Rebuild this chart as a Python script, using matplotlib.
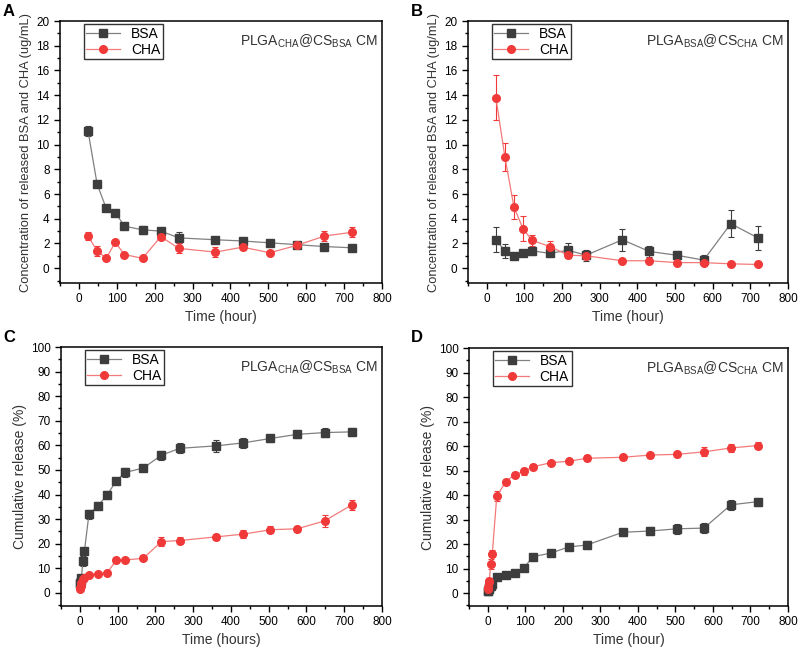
import numpy as np
import matplotlib.pyplot as plt
from matplotlib.ticker import MultipleLocator

plt.rcParams['font.family'] = ['Liberation Sans', 'DejaVu Sans']
plt.rcParams['mathtext.fontset'] = 'custom'
plt.rcParams['mathtext.rm'] = 'Liberation Sans'

# daily concentration (panels A, B)
t_conc = [24, 48, 72, 96, 120, 168, 216, 264, 360, 432, 504, 576, 648, 720]
a_bsa = [11.1, 6.8, 4.85, 4.5, 3.4, 3.1, 3.0, 2.45, 2.3, 2.2, 2.05, 1.9, 1.75, 1.65]
a_bsa_err = [0.4, 0.25, 0.2, 0.2, 0.15, 0.3, 0.2, 0.45, 0.15, 0.2, 0.15, 0.15, 0.15, 0.1]
a_cha = [2.6, 1.4, 0.8, 2.1, 1.1, 0.8, 2.55, 1.6, 1.3, 1.7, 1.25, 1.85, 2.6, 2.9]
a_cha_err = [0.3, 0.4, 0.1, 0.15, 0.1, 0.1, 0.2, 0.4, 0.4, 0.25, 0.15, 0.2, 0.4, 0.4]
b_bsa = [2.3, 1.4, 1.0, 1.25, 1.4, 1.2, 1.45, 1.05, 2.3, 1.35, 1.05, 0.65, 3.6, 2.45]
b_bsa_err = [1.0, 0.55, 0.1, 0.1, 0.3, 0.15, 0.6, 0.45, 0.9, 0.45, 0.3, 0.4, 1.1, 1.0]
b_cha = [13.8, 9.0, 4.95, 3.2, 2.25, 1.75, 1.05, 1.0, 0.6, 0.6, 0.45, 0.45, 0.35, 0.3]
b_cha_err = [1.8, 1.1, 0.95, 1.0, 0.45, 0.45, 0.2, 0.15, 0.1, 0.1, 0.1, 0.1, 0.05, 0.05]

# cumulative release (panels C, D)
t_cum = [0.5, 1, 2, 4, 8, 12, 24, 48, 72, 96, 120, 168, 216, 264, 360, 432, 504, 576, 648, 720]
c_bsa = [3.5, 4, 5, 6, 13, 17, 32, 35.5, 39.8, 45.5, 49, 50.8, 56, 58.8, 59.8, 61, 62.8, 64.5, 65.2, 65.5]
c_bsa_err = [0.5, 0.5, 0.6, 0.8, 2.0, 1.2, 1.8, 1.5, 1.5, 1.0, 1.8, 0.8, 1.8, 2.0, 2.3, 2.0, 1.5, 1.6, 1.8, 1.5]
c_cha = [1.5, 2, 3, 4, 5.5, 6.2, 7.5, 7.8, 8.2, 13.2, 13.4, 14.1, 20.9, 21.3, 22.8, 23.9, 25.7, 26.1, 29.3, 35.8]
c_cha_err = [0.3, 0.3, 0.4, 0.4, 0.5, 0.5, 0.5, 0.5, 0.5, 1.0, 1.0, 0.8, 1.8, 1.5, 1.2, 1.5, 1.5, 1.2, 2.5, 2.0]
d_bsa = [0.8, 1, 1.5, 2.5, 3, 3.8, 6.5, 7.2, 8.1, 10.2, 14.8, 16.3, 18.8, 19.6, 24.8, 25.3, 26.2, 26.5, 36, 37.3]
d_bsa_err = [0.3, 0.3, 0.4, 0.5, 0.5, 0.5, 0.6, 0.6, 0.6, 0.8, 1.0, 1.3, 1.3, 1.5, 1.5, 1.5, 2.0, 2.2, 2.0, 1.6]
d_cha = [1.5, 2.5, 4.5, 5, 12, 16, 39.5, 45.5, 48.3, 49.6, 51.5, 53.2, 53.8, 55, 55.4, 56.3, 56.6, 57.6, 59.2, 60.2]
d_cha_err = [0.5, 0.6, 0.8, 1.0, 2.0, 1.5, 2.0, 1.0, 1.0, 1.5, 1.2, 0.8, 1.0, 1.2, 1.0, 1.0, 1.0, 1.8, 1.5, 1.5]

label_ac = r'PLGA$_{\mathrm{CHA}}$@CS$_{\mathrm{BSA}}$ CM'
label_bd = r'PLGA$_{\mathrm{BSA}}$@CS$_{\mathrm{CHA}}$ CM'

BSA_COL = '#3d3d3d'
CHA_COL = '#f03a3a'

W, H = 800, 648
fig = plt.figure(figsize=(W / 100, H / 100), dpi=100)


def make_axes(l, t, r, b):
    return fig.add_axes([l / W, 1 - b / H, (r - l) / W, (b - t) / H])


def draw(ax, t, bsa, bsa_err, cha, cha_err, ylim, ymaj, ymin, ylabel, xlabel, note, ylsize):
    e1 = ax.errorbar(t, bsa, yerr=bsa_err, color='#808080', lw=0.9, marker='s', ms=5.5,
                     mfc=BSA_COL, mec=BSA_COL, ecolor=BSA_COL, elinewidth=0.8, capsize=2.5,
                     capthick=0.8, label='BSA', zorder=3)
    e2 = ax.errorbar(t, cha, yerr=cha_err, color='#f37a7a', lw=0.9, marker='o', ms=5.5,
                     mfc=CHA_COL, mec=CHA_COL, ecolor=CHA_COL, elinewidth=0.8, capsize=2.5,
                     capthick=0.8, label='CHA', zorder=3)
    ax.set_xlim(-50, 800)
    ax.set_ylim(*ylim)
    ax.xaxis.set_major_locator(MultipleLocator(100))
    ax.xaxis.set_minor_locator(MultipleLocator(50))
    ax.yaxis.set_major_locator(MultipleLocator(ymaj))
    ax.yaxis.set_minor_locator(MultipleLocator(ymin))
    ax.tick_params(which='both', direction='out', labelsize=8.5, width=1)
    ax.tick_params(which='major', length=4)
    ax.tick_params(which='minor', length=2)
    for s in ax.spines.values():
        s.set_linewidth(1.1)
    ax.set_xlabel(xlabel, fontsize=10, color='#333333', labelpad=3)
    ax.set_ylabel(ylabel, fontsize=ylsize, color='#333333', labelpad=3)
    leg = ax.legend([e1[0], e2[0]], ['BSA', 'CHA'], loc='upper left',
                    bbox_to_anchor=(0.065, 1.0), fontsize=10,
                    frameon=True, fancybox=False, edgecolor='black', borderpad=0.2,
                    handlelength=2.4, labelspacing=0.15, borderaxespad=0.2)
    leg.get_frame().set_linewidth(1.0)
    ax.text(0.985, 0.955, note, transform=ax.transAxes, ha='right', va='top',
            fontsize=10, color='#333333')


axA = make_axes(60, 21, 382, 283)
axB = make_axes(468, 21, 788, 283)
axC = make_axes(61, 347, 382, 606)
axD = make_axes(469, 348, 788, 606)

conc_label = 'Concentration of released BSA and CHA (ug/mL)'
draw(axA, t_conc, a_bsa, a_bsa_err, a_cha, a_cha_err, (-1.2, 20), 2, 1,
     conc_label, 'Time (hour)', label_ac, 9.3)
draw(axB, t_conc, b_bsa, b_bsa_err, b_cha, b_cha_err, (-1.2, 20), 2, 1,
     conc_label, 'Time (hour)', label_bd, 9.3)
draw(axC, t_cum, c_bsa, c_bsa_err, c_cha, c_cha_err, (-5.3, 100), 10, 5,
     'Cumulative release (%)', 'Time (hours)', label_ac, 10)
draw(axD, t_cum, d_bsa, d_bsa_err, d_cha, d_cha_err, (-5.3, 100), 10, 5,
     'Cumulative release (%)', 'Time (hour)', label_bd, 10)

for lab, x, y in [('A', 3, 12), ('B', 411, 12), ('C', 3, 338), ('D', 411, 338)]:
    fig.text(x / W, 1 - y / H, lab, fontsize=12, fontweight='bold', ha='left', va='center')

fig.savefig('out.png', dpi=100)
